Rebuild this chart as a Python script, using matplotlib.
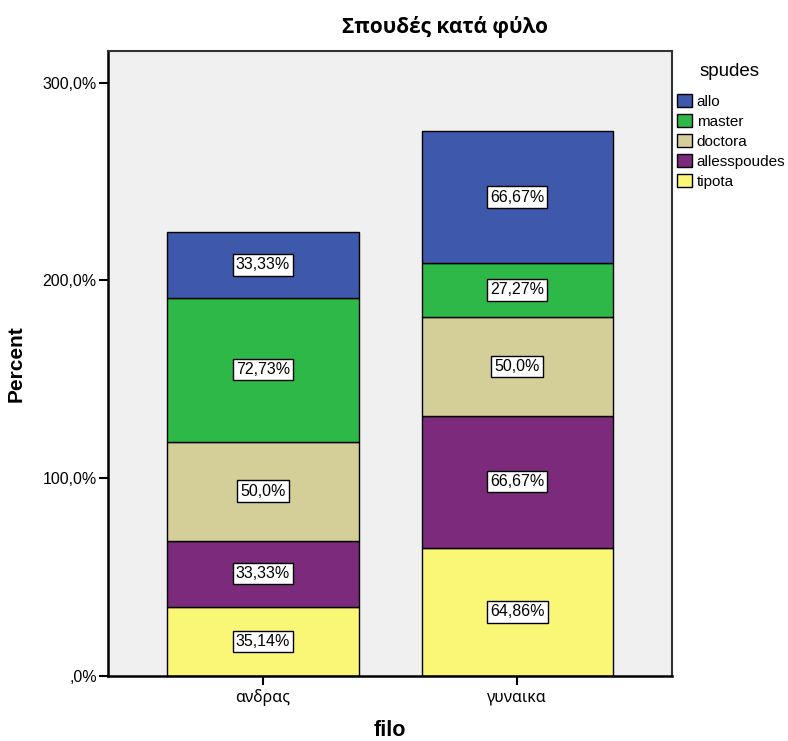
import matplotlib.pyplot as plt
import numpy as np

plt.rcParams['font.family'] = ['Liberation Sans', 'DejaVu Sans']

groups = ['ανδρας', 'γυναικα']
categories = ['tipota', 'allesspoudes', 'doctora', 'master', 'allo']
values = {
    'tipota': [35.14, 64.86],
    'allesspoudes': [33.33, 66.67],
    'doctora': [50.0, 50.0],
    'master': [72.73, 27.27],
    'allo': [33.33, 66.67],
}
colors = {
    'tipota': '#FBF776',
    'allesspoudes': '#7B2A7C',
    'doctora': '#D4CF98',
    'master': '#2EB848',
    'allo': '#3E58AC',
}


def fmt(v):
    s = f'{v:.2f}'.rstrip('0')
    if s.endswith('.'):
        s += '0'
    return s.replace('.', ',') + '%'


fig = plt.figure(figsize=(7.88, 7.41), dpi=100)
ax = fig.add_axes([0.137, 0.0877, 0.716, 0.8435])
ax.set_facecolor('#F0F0F0')

x = np.arange(len(groups))
bottom = np.zeros(len(groups))
handles = {}
for cat in categories:
    vals = np.array(values[cat])
    bars = ax.bar(x, vals, 0.752, bottom=bottom, color=colors[cat],
                  edgecolor='black', linewidth=1, label=cat)
    handles[cat] = bars
    for xi, v, b in zip(x, vals, bottom):
        ax.text(xi, b + v / 2, fmt(v), ha='center', va='center', fontsize=11.5,
                bbox=dict(boxstyle='square,pad=0.2', fc='white', ec='black', lw=1))
    bottom += vals

ax.set_xlim(-0.61, 1.61)
ax.set_ylim(0, 316)
ax.set_yticks([0, 100, 200, 300])
ax.set_yticklabels([',0%', '100,0%', '200,0%', '300,0%'])
ax.set_xticks(x)
ax.set_xticklabels(groups, family=['Noto Sans', 'DejaVu Sans'])
ax.tick_params(axis='both', direction='out', length=6.5, width=1.5, labelsize=11.5)
ax.tick_params(axis='y', pad=1.5)
ax.tick_params(axis='x', pad=3)
for sp in ['left', 'bottom']:
    ax.spines[sp].set_linewidth(1.8)
for sp in ['top', 'right']:
    ax.spines[sp].set_linewidth(1.5)
    ax.spines[sp].set_color('#333333')

ax.set_ylabel('Percent', fontsize=15, fontweight='bold', labelpad=12)
ax.set_xlabel('filo', fontsize=15.5, fontweight='bold', labelpad=10)
fig.text(0.5647, 1 - 27 / 741, 'Σπουδές κατά φύλο', fontsize=15,
         fontweight='bold', ha='center', va='center',
         family=['Open Sans', 'DejaVu Sans'])

# legend title drawn separately so the gap to the entries matches
fig.text(730 / 788, 1 - 72 / 741, 'spudes', fontsize=13.5, ha='center', va='center')
order = ['allo', 'master', 'doctora', 'allesspoudes', 'tipota']
leg = fig.legend([handles[c] for c in order], order, loc='upper left',
                 bbox_to_anchor=(0.852, 0.881), frameon=False, fontsize=11,
                 handlelength=0.95, handleheight=0.95, handletextpad=0.3,
                 labelspacing=0.33, borderaxespad=0)

fig.savefig('out.png', dpi=100)
